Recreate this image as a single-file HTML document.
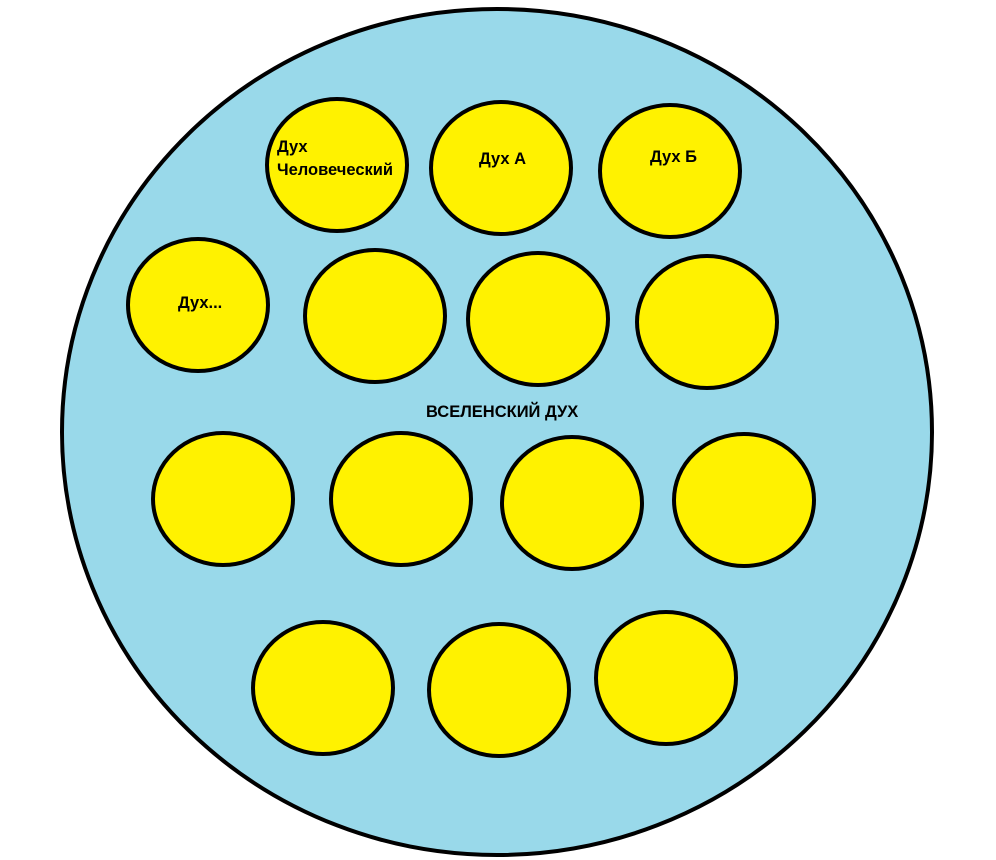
<!DOCTYPE html>
<html><head><meta charset="utf-8"><style>
html,body{margin:0;padding:0;background:#fff;}
svg{display:block;}
text{font-family:"Liberation Sans",sans-serif;font-weight:bold;font-size:16.5px;fill:#000;}
</style></head><body>
<svg width="996" height="860" viewBox="0 0 996 860">
<ellipse cx="497" cy="432" rx="435" ry="423" fill="#99d9ea" stroke="#000" stroke-width="4"/>
<g fill="#fff200" stroke="#000" stroke-width="4">
<ellipse cx="337" cy="165" rx="70" ry="66"/>
<ellipse cx="501" cy="168" rx="70" ry="66"/>
<ellipse cx="670" cy="171" rx="70" ry="66"/>
<ellipse cx="198" cy="305" rx="70" ry="66"/>
<ellipse cx="375" cy="316" rx="70" ry="66"/>
<ellipse cx="538" cy="319" rx="70" ry="66"/>
<ellipse cx="707" cy="322" rx="70" ry="66"/>
<ellipse cx="223" cy="499" rx="70" ry="66"/>
<ellipse cx="401" cy="499" rx="70" ry="66"/>
<ellipse cx="572" cy="503" rx="70" ry="66"/>
<ellipse cx="744" cy="500" rx="70" ry="66"/>
<ellipse cx="323" cy="688" rx="70" ry="66"/>
<ellipse cx="499" cy="690" rx="70" ry="66"/>
<ellipse cx="666" cy="678" rx="70" ry="66"/>
</g>
<text x="277" y="152">Дух</text>
<text x="277" y="175">Человеческий</text>
<text x="479" y="164">Дух А</text>
<text x="650" y="162">Дух Б</text>
<text x="178" y="308">Дух...</text>
<text x="426" y="417">ВСЕЛЕНСКИЙ ДУХ</text>
</svg>
</body></html>
